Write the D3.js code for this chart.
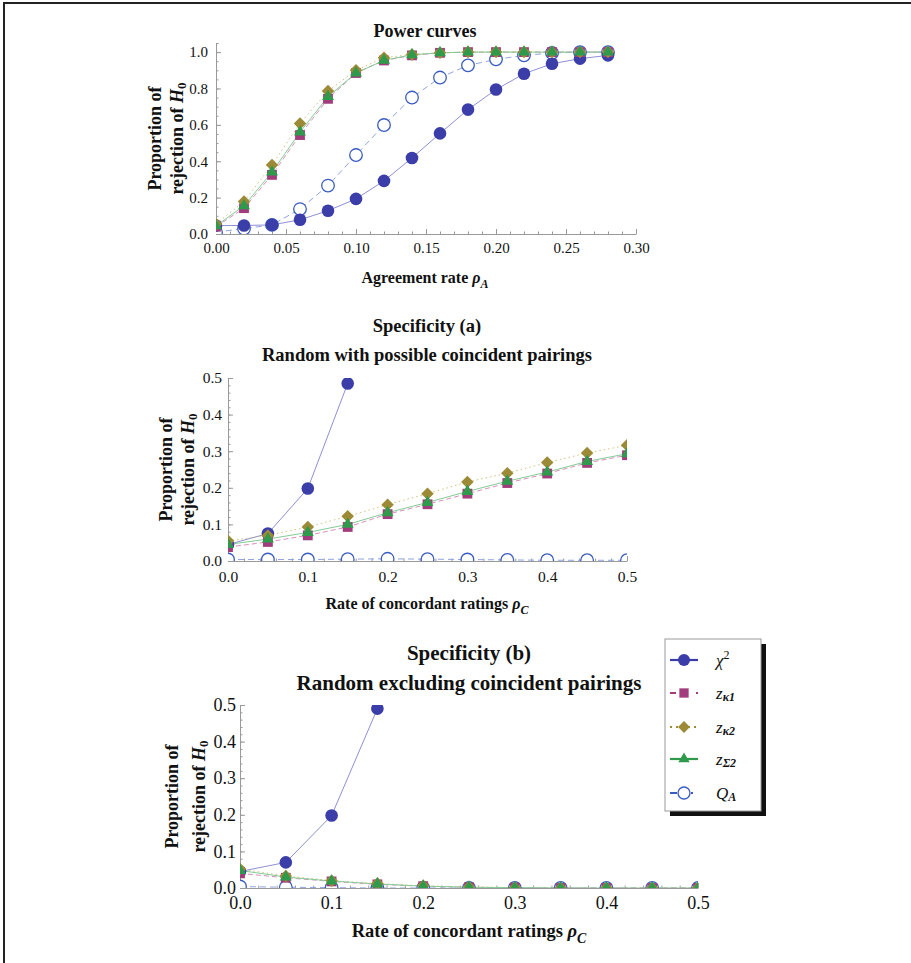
<!DOCTYPE html>
<html>
<head>
<meta charset="utf-8">
<script src="https://cdn.jsdelivr.net/npm/d3@7/dist/d3.min.js"></script>
<style>
  body { margin: 0; background: #fff; }
  svg { display: block; }
  text { font-family: "Liberation Serif", "Times New Roman", serif; fill: #111; }
</style>
</head>
<body>
<div id="chart"></div>
<script>
// power curves: agreement rate on x
const powerRates = [0, 0.02, 0.04, 0.06, 0.08, 0.10, 0.12, 0.14, 0.16, 0.18, 0.20, 0.22, 0.24, 0.26, 0.28];
const powerChi2 = [0.046, 0.047, 0.05, 0.078, 0.128, 0.193, 0.292, 0.418, 0.553, 0.684, 0.794, 0.881, 0.936, 0.964, 0.982];
const powerZk1  = [0.04, 0.142, 0.325, 0.544, 0.743, 0.885, 0.954, 0.982, 0.996, 1, 1, 1, 1, 1, 1];
const powerZk2  = [0.055, 0.179, 0.38, 0.608, 0.786, 0.90, 0.969, 0.987, 0.997, 1, 1, 1, 1, 1, 1];
const powerZs2  = [0.045, 0.155, 0.34, 0.56, 0.755, 0.885, 0.955, 0.985, 0.996, 1, 1, 1, 1, 1, 1];
const powerQA   = [0.01, 0.03, 0.05, 0.137, 0.266, 0.434, 0.599, 0.75, 0.86, 0.927, 0.96, 0.982, 0.995, 1, 1];

// specificity: rate of concordant ratings on x
const concRates = [0, 0.05, 0.10, 0.15, 0.20, 0.25, 0.30, 0.35, 0.40, 0.45, 0.50];
const specAChi2 = [0.045, 0.075, 0.198, 0.485];
const specAZk1  = [0.038, 0.052, 0.07, 0.093, 0.128, 0.155, 0.184, 0.213, 0.239, 0.268, 0.289];
const specAZk2  = [0.055, 0.07, 0.093, 0.122, 0.154, 0.184, 0.216, 0.24, 0.269, 0.295, 0.316];
const specAZs2  = [0.045, 0.06, 0.078, 0.10, 0.132, 0.16, 0.19, 0.218, 0.243, 0.272, 0.293];
const specAQA   = [0.004, 0.004, 0.004, 0.005, 0.006, 0.005, 0.004, 0.003, 0.002, 0.002, 0.002];

const specBChi2 = [0.045, 0.07, 0.198, 0.49];
const specBZk1  = [0.04, 0.028, 0.018, 0.01, 0.005, 0.002, 0.001, 0, 0, 0, 0];
const specBZk2  = [0.052, 0.033, 0.02, 0.012, 0.006, 0.003, 0.001, 0, 0, 0, 0];
const specBZs2  = [0.048, 0.03, 0.019, 0.011, 0.005, 0.002, 0.001, 0, 0, 0, 0];
const specBQA   = [0.004, 0.002, 0.001, 0, 0, 0, 0, 0, 0, 0, 0];

const powerTicks = [0, 0.05, 0.10, 0.15, 0.20, 0.25, 0.30];
const concTicks = [0, 0.1, 0.2, 0.3, 0.4, 0.5];

const styles = {
  chi2: { color: '#3b3da8', line: '#8e8fd6', dash: null,  shape: 'circle' },
  zk1:  { color: '#a23c7c', line: '#d98fbd', dash: '5,3', shape: 'square' },
  zk2:  { color: '#9c8a36', line: '#cfc47c', dash: '1.5,3', shape: 'diamond' },
  zs2:  { color: '#2f9a4c', line: '#84cc96', dash: null,  shape: 'triangle' },
  qa:   { color: '#3a5cc0', line: '#90a4e2', dash: '6,4', shape: 'open' }
};
const drawOrder = ['qa', 'chi2', 'zk1', 'zk2', 'zs2'];

const svg = d3.select('#chart').append('svg')
    .attr('width', 911).attr('height', 963);

// page frame (top + left only)
svg.append('path')
    .attr('d', 'M4,963V3H911')
    .attr('fill', 'none').attr('stroke', '#222').attr('stroke-width', 2);

function marker(g, shape, st, cx, cy, k) {
  k = k || 1;
  if (shape === 'circle' || shape === 'open') {
    g.append('circle').attr('cx', cx).attr('cy', cy).attr('r', 6.3 * k)
      .attr('fill', shape === 'open' ? '#fff' : st.color)
      .attr('stroke', st.color).attr('stroke-width', shape === 'open' ? 1.3 : 0);
    return;
  }
  let sym, size, rot = 0;
  if (shape === 'square') { sym = d3.symbolSquare; size = 96; }
  if (shape === 'diamond') { sym = d3.symbolSquare; size = 78; rot = 45; }
  if (shape === 'triangle') { sym = d3.symbolTriangle; size = 62; }
  g.append('path')
    .attr('d', d3.symbol().type(sym).size(size * k * k)())
    .attr('transform', `translate(${cx},${cy}) rotate(${rot})`)
    .attr('fill', st.color);
}

let clipId = 0;
function panel(o) {
  const x = d3.scaleLinear().domain(o.xDomain).range(o.xRange);
  const y = d3.scaleLinear().domain(o.yDomain).range(o.yRange);
  const g = svg.append('g');

  // axes, mathematica style: grey, ticks pointing inward
  g.append('g').attr('transform', `translate(0,${y(0)})`)
    .call(d3.axisBottom(x).tickValues(o.xTicks).tickFormat(d3.format(o.xFmt))
      .tickSizeInner(-5).tickSizeOuter(0).tickPadding(o.xPad));
  g.append('g').attr('transform', `translate(${x(0)},0)`)
    .call(d3.axisLeft(y).tickValues(o.yTicks).tickFormat(d3.format('.1f'))
      .tickSizeInner(-5).tickSizeOuter(0).tickPadding(o.yPad));
  g.append('g').attr('transform', `translate(0,${y(0)})`)
    .call(d3.axisBottom(x).tickValues(o.xMinor).tickFormat('').tickSizeInner(-2.5).tickSizeOuter(0))
    .select('.domain').remove();
  g.append('g').attr('transform', `translate(${x(0)},0)`)
    .call(d3.axisLeft(y).tickValues(o.yMinor).tickFormat('').tickSizeInner(-2.5).tickSizeOuter(0))
    .select('.domain').remove();
  g.selectAll('.domain, .tick line').attr('stroke', '#9a9a9a');
  g.selectAll('.tick text').attr('fill', '#111')
    .style('font-family', '"Liberation Serif", serif').style('font-size', o.tickFont + 'px');

  // clip to plot range
  const id = 'clip' + (clipId++);
  g.append('clipPath').attr('id', id).append('rect')
    .attr('x', x(o.xDomain[0])).attr('y', y(o.yDomain[1]))
    .attr('width', x(o.xDomain[1]) - x(o.xDomain[0]))
    .attr('height', y(o.yDomain[0]) - y(o.yDomain[1]));
  const plot = g.append('g').attr('clip-path', `url(#${id})`);

  const line = d3.line().x(d => x(d[0])).y(d => y(d[1]));
  drawOrder.forEach(k => {
    const vals = o.series[k];
    const pts = vals.map((v, i) => [o.xs[i], v]);
    plot.append('path').datum(pts).attr('d', line)
      .attr('fill', 'none').attr('stroke', styles[k].line).attr('stroke-width', 1)
      .attr('stroke-dasharray', styles[k].dash);
  });
  drawOrder.forEach(k => {
    const vals = o.series[k];
    vals.forEach((v, i) => marker(plot, styles[k].shape, styles[k], x(o.xs[i]), y(v)));
  });

  // titles
  o.titles.forEach(t => {
    g.append('text').attr('x', o.titleX).attr('y', t.y).attr('text-anchor', 'middle')
      .attr('font-weight', 'bold').attr('font-size', o.titleFont).text(t.text);
  });

  // x label
  const xl = g.append('text').attr('x', o.titleX).attr('y', o.xLabelY)
    .attr('text-anchor', 'middle').attr('font-weight', 'bold').attr('font-size', o.labelFont);
  xl.append('tspan').text(o.xLabel + ' ');
  xl.append('tspan').attr('font-style', 'italic').text('ρ');
  xl.append('tspan').attr('font-style', 'italic').attr('font-size', o.labelFont * 0.75)
    .attr('dy', o.labelFont * 0.3).text(o.xSub);

  // y label, two lines
  const cy = (o.yRange[0] + o.yRange[1]) / 2;
  g.append('text').attr('transform', `translate(${o.yLabelX[0]},${cy}) rotate(-90)`)
    .attr('text-anchor', 'middle').attr('font-weight', 'bold').attr('font-size', 18)
    .text('Proportion of');
  const yl2 = g.append('text').attr('transform', `translate(${o.yLabelX[1]},${cy}) rotate(-90)`)
    .attr('text-anchor', 'middle').attr('font-weight', 'bold').attr('font-size', 18);
  yl2.append('tspan').text('rejection of ');
  yl2.append('tspan').attr('font-style', 'italic').text('H');
  yl2.append('tspan').attr('font-size', 13).attr('dy', 3).text('0');
}

function range(a, b, s) {
  const out = [];
  for (let v = a; v <= b + 1e-9; v += s) out.push(+v.toFixed(4));
  return out;
}

panel({
  xs: powerRates, xDomain: [0, 0.30], yDomain: [0, 1.05],
  xRange: [216, 636], yRange: [234, 43],
  xTicks: powerTicks, xFmt: '.2f', yTicks: [0, 0.2, 0.4, 0.6, 0.8, 1.0],
  xMinor: range(0, 0.30, 0.01), yMinor: range(0, 1.05, 0.05),
  series: { chi2: powerChi2, zk1: powerZk1, zk2: powerZk2, zs2: powerZs2, qa: powerQA },
  titles: [{ text: 'Power curves', y: 37 }], titleX: 425, titleFont: 18,
  xLabel: 'Agreement rate', xSub: 'A', xLabelY: 283, labelFont: 16,
  tickFont: 15, xPad: 8.5, yPad: 8, yLabelX: [161, 183]
});

panel({
  xs: concRates, xDomain: [0, 0.5], yDomain: [0, 0.5],
  xRange: [228, 627], yRange: [561, 378],
  xTicks: concTicks, xFmt: '.1f', yTicks: [0, 0.1, 0.2, 0.3, 0.4, 0.5],
  xMinor: range(0, 0.5, 0.02), yMinor: range(0, 0.5, 0.02),
  series: { chi2: specAChi2, zk1: specAZk1, zk2: specAZk2, zs2: specAZs2, qa: specAQA },
  titles: [{ text: 'Specificity (a)', y: 332 }, { text: 'Random with possible coincident pairings', y: 361 }],
  titleX: 427, titleFont: 18.5,
  xLabel: 'Rate of concordant ratings', xSub: 'C', xLabelY: 609, labelFont: 16,
  tickFont: 15.5, xPad: 10, yPad: 6, yLabelX: [172, 194]
});

panel({
  xs: concRates, xDomain: [0, 0.5], yDomain: [0, 0.5],
  xRange: [240, 698], yRange: [888, 705],
  xTicks: concTicks, xFmt: '.1f', yTicks: [0, 0.1, 0.2, 0.3, 0.4, 0.5],
  xMinor: range(0, 0.5, 0.02), yMinor: range(0, 0.5, 0.02),
  series: { chi2: specBChi2, zk1: specBZk1, zk2: specBZk2, zs2: specBZs2, qa: specBQA },
  titles: [{ text: 'Specificity (b)', y: 660 }, { text: 'Random excluding coincident pairings', y: 690 }],
  titleX: 469, titleFont: 21,
  xLabel: 'Rate of concordant ratings', xSub: 'C', xLabelY: 937, labelFont: 18.5,
  tickFont: 18, xPad: 8.5, yPad: 4, yLabelX: [178, 205]
});

// legend with drop shadow
const legendKeys = ['chi2', 'zk1', 'zk2', 'zs2', 'qa'];
const legendRows = [660, 693, 727, 759, 793];
const lg = svg.append('g');
lg.append('rect').attr('x', 670).attr('y', 644).attr('width', 96).attr('height', 172).attr('fill', '#111');
lg.append('rect').attr('x', 665).attr('y', 639).attr('width', 96).attr('height', 172)
  .attr('fill', '#fff').attr('stroke', '#999').attr('stroke-width', 1);
legendKeys.forEach((k, i) => {
  const st = styles[k];
  const yy = legendRows[i];
  lg.append('line').attr('x1', 670).attr('x2', 698).attr('y1', yy).attr('y2', yy)
    .attr('stroke', st.color).attr('stroke-width', 2.2)
    .attr('stroke-dasharray', k === 'zk1' ? '6,4,0,4,2,10' : k === 'zk2' ? '2,4' : k === 'qa' ? '7,14,2,10' : null);
  marker(lg, st.shape, st, 684, yy, 0.95);
});
function legendText(yy, main, sub, sup) {
  const t = lg.append('text').attr('x', 716).attr('y', yy + 6).attr('font-size', 17).attr('font-style', 'italic');
  t.append('tspan').text(main);
  if (sup) t.append('tspan').attr('font-style', 'normal').attr('font-size', 12).attr('dy', -7).text(sup);
  if (sub) t.append('tspan').attr('font-size', 12).attr('font-weight', 'bold').attr('dy', 2).text(sub);
}
legendText(legendRows[0], 'χ', null, '2');
legendText(legendRows[1], 'z', 'κ1');
legendText(legendRows[2], 'z', 'κ2');
legendText(legendRows[3], 'z', 'Σ2');
legendText(legendRows[4], 'Q', 'A');
</script>
</body>
</html>
